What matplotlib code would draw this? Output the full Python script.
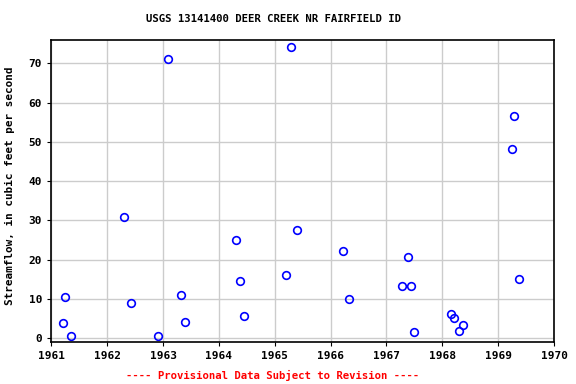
import numpy as np
import matplotlib.pyplot as plt

# sampled dates (decimal year) and streamflow (cfs)
years = [1961.21, 1961.245, 1961.35, 1962.30, 1962.43, 1962.91, 1963.09,
         1963.32, 1963.39, 1964.30, 1964.375, 1964.445, 1965.20, 1965.285,
         1965.39, 1966.23, 1966.32, 1967.285, 1967.39, 1967.435, 1967.495,
         1968.155, 1968.215, 1968.305, 1968.37, 1969.25, 1969.29, 1969.37]
flow = [3.8, 10.4, 0.6, 31.0, 8.9, 0.6, 71.2,
        10.9, 4.1, 24.9, 14.5, 5.6, 16.0, 74.3,
        27.7, 22.1, 9.9, 13.2, 20.6, 13.2, 1.5,
        6.1, 5.1, 1.8, 3.3, 48.3, 56.5, 15.0]
xticks = list(range(1961, 1971))
yticks = list(range(0, 80, 10))

plt.rcParams['font.family'] = ['DejaVu Sans Mono']
plt.rcParams['font.weight'] = 'bold'

fig = plt.figure(figsize=(5.76, 3.84), dpi=100)
ax = fig.add_axes([0.089, 0.109, 0.873, 0.787])

ax.plot(years, flow, 'o', ms=5.5, mfc='none', mec='blue', mew=1.2)

ax.set_xlim(1961, 1970)
ax.set_ylim(-1, 76)
ax.set_xticks(xticks)
ax.set_yticks(yticks)
ax.tick_params(labelsize=8, length=3, width=0.8)
for lab in ax.get_xticklabels() + ax.get_yticklabels():
    lab.set_fontweight('bold')
ax.grid(True, color='#cccccc', lw=1)
ax.set_axisbelow(True)
for s in ax.spines.values():
    s.set_linewidth(1.2)

fig.text(0.474, 0.95, 'USGS 13141400 DEER CREEK NR FAIRFIELD ID',
         ha='center', va='center', fontsize=7.7, fontweight='bold')
fig.text(0.018, 0.515, 'Streamflow, in cubic feet per second', rotation=90,
         ha='center', va='center', fontsize=7.9, fontweight='bold')
fig.text(0.474, 0.023, '---- Provisional Data Subject to Revision ----',
         color='red', ha='center', va='center', fontsize=7.7,
         fontweight='bold')

fig.savefig('out.png', dpi=100)
